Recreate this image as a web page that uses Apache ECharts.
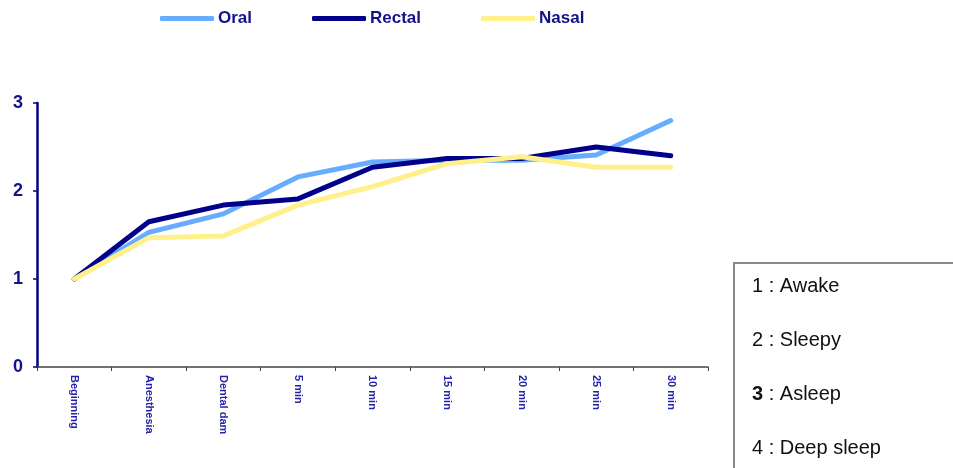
<!DOCTYPE html>
<html>
<head>
<meta charset="utf-8">
<script src="https://cdn.jsdelivr.net/npm/echarts@6/dist/echarts.min.js"></script>
<style>
  html, body { margin: 0; padding: 0; background: #fff; }
  #chart { width: 953px; height: 468px; }
</style>
</head>
<body>
<div id="chart"></div>
<script>
// Sedation score over time, by route of administration
const categories = ['Beginning', 'Anesthesia', 'Dental dam', '5 min', '10 min', '15 min', '20 min', '25 min', '30 min'];
const oral   = [1.00, 1.53, 1.74, 2.16, 2.33, 2.35, 2.35, 2.41, 2.80];
const rectal = [1.00, 1.65, 1.84, 1.91, 2.27, 2.37, 2.37, 2.50, 2.40];
const nasal  = [1.00, 1.47, 1.49, 1.84, 2.05, 2.31, 2.39, 2.27, 2.27];
const yTicks = [0, 1, 2, 3];
const scaleKey = [
  { num: '1', text: 'Awake', bold: false },
  { num: '2', text: 'Sleepy', bold: false },
  { num: '3', text: 'Asleep', bold: true },
  { num: '4', text: 'Deep sleep', bold: false }
];

const navy = '#12128a';
const chart = echarts.init(document.getElementById('chart'));

function lineSeries(name, data, color) {
  return {
    name: name,
    type: 'line',
    data: data,
    symbol: 'none',
    smooth: false,
    lineStyle: { color: color, width: 5, cap: 'round', join: 'round' },
    itemStyle: { color: color },
    emphasis: { disabled: true }
  };
}

const keyFont = 'Liberation Sans, Arial, sans-serif';
const keyTexts = scaleKey.map((k, i) => ({
  type: 'text',
  left: 752,
  top: 276 + i * 54.3,
  style: {
    text: '{' + (k.bold ? 'b' : 'n') + '|' + k.num + '}{n| : ' + k.text + '}',
    rich: {
      n: { fontFamily: keyFont, fontSize: 20, fill: '#111' },
      b: { fontFamily: keyFont, fontSize: 20, fontWeight: 'bold', fill: '#111' }
    }
  }
}));

chart.setOption({
  animation: false,
  backgroundColor: '#ffffff',
  grid: { left: 37, right: 245, top: 103, bottom: 101, containLabel: false },
  legend: {
    left: 155,
    top: 5,
    itemWidth: 54,
    itemHeight: 5,
    itemGap: 60,
    icon: 'roundRect',
    textStyle: {
      color: navy,
      fontFamily: 'Liberation Sans, Arial, sans-serif',
      fontWeight: 'bold',
      fontSize: 17,
      padding: [0, 0, 0, -1]
    },
    data: ['Oral', 'Rectal', 'Nasal']
  },
  xAxis: {
    type: 'category',
    data: categories,
    boundaryGap: true,
    axisLine: { lineStyle: { color: '#444', width: 1.5 } },
    axisTick: { show: true, interval: 0, length: 4, lineStyle: { color: '#444' } },
    axisLabel: {
      interval: 0,
      rotate: -90,
      margin: 8,
      color: '#2424a8',
      fontFamily: 'Liberation Sans, Arial, sans-serif',
      fontSize: 11,
      fontWeight: 'bold'
    },
    splitLine: { show: false }
  },
  yAxis: {
    type: 'value',
    min: yTicks[0],
    max: yTicks[yTicks.length - 1],
    interval: 1,
    axisLine: { show: true, lineStyle: { color: '#000080', width: 2.5 } },
    axisTick: { show: true, length: 4, lineStyle: { color: '#000080', width: 1.5 } },
    axisLabel: {
      margin: 14,
      color: navy,
      fontFamily: 'Liberation Sans, Arial, sans-serif',
      fontSize: 18,
      fontWeight: 'bold'
    },
    splitLine: { show: false }
  },
  series: [
    lineSeries('Oral', oral, '#66adff'),
    lineSeries('Rectal', rectal, '#00008b'),
    lineSeries('Nasal', nasal, '#fff08c')
  ],
  graphic: [
    {
      type: 'rect',
      left: 733,
      top: 262,
      shape: { width: 260, height: 240 },
      style: { fill: '#fff', stroke: '#8a8a8a', lineWidth: 2 }
    }
  ].concat(keyTexts)
});
</script>
</body>
</html>
